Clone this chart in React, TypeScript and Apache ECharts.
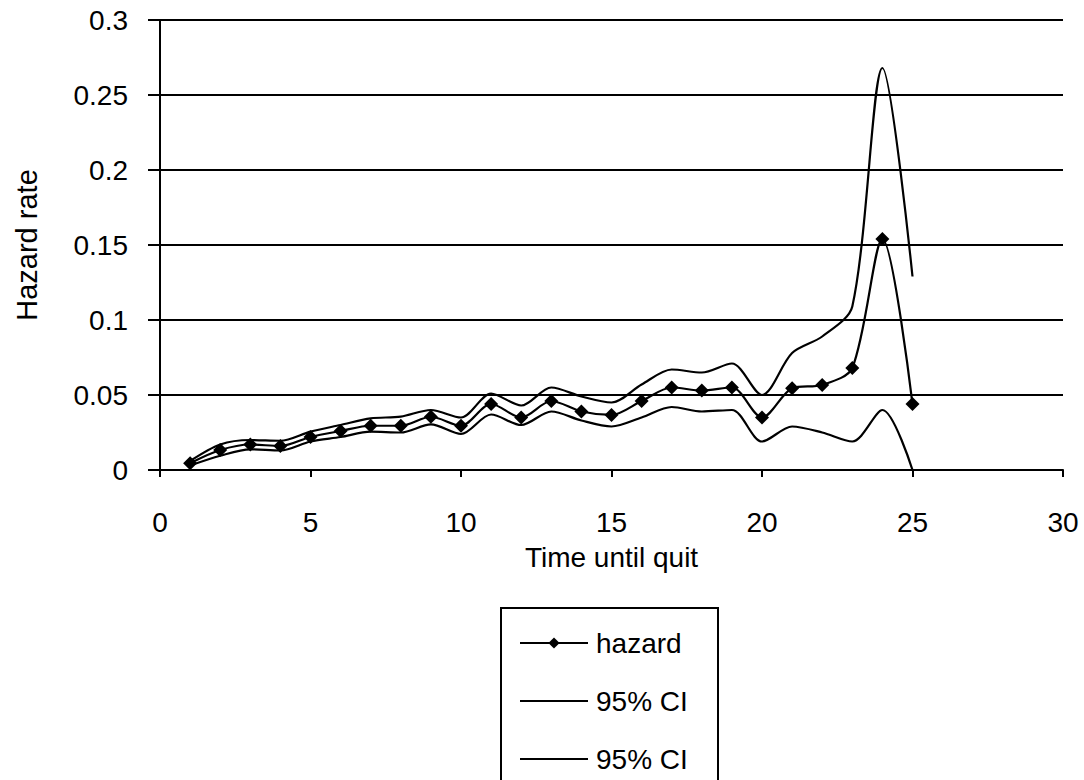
import React, { useEffect, useRef } from "react";
import * as echarts from "echarts";

const times = [1, 2, 3, 4, 5, 6, 7, 8, 9, 10, 11, 12, 13, 14, 15, 16, 17, 18, 19, 20, 21, 22, 23, 24, 25];
const hazard = [0.0045, 0.0133, 0.017, 0.016, 0.022, 0.026, 0.0295, 0.0295, 0.0355, 0.0295, 0.044, 0.035, 0.046, 0.039, 0.0367, 0.046, 0.055, 0.053, 0.055, 0.035, 0.0545, 0.0567, 0.068, 0.154, 0.044];
const upperCI = [0.006, 0.017, 0.02, 0.0195, 0.0256, 0.03, 0.0344, 0.0356, 0.04, 0.035, 0.051, 0.043, 0.055, 0.049, 0.045, 0.057, 0.067, 0.065, 0.071, 0.05, 0.078, 0.089, 0.109, 0.268, 0.129];
const lowerCI = [0.003, 0.0095, 0.0138, 0.013, 0.019, 0.022, 0.0256, 0.025, 0.0304, 0.024, 0.037, 0.03, 0.039, 0.033, 0.029, 0.035, 0.042, 0.039, 0.04, 0.019, 0.029, 0.025, 0.019, 0.04, 0.0];
const seriesNames = ["hazard", "95% CI", "95% CI"];
const xAxisTitle = "Time until quit";
const yAxisTitle = "Hazard rate";

const FONT = "Liberation Sans, Arial, sans-serif";

export default function App() {
  const ref = useRef<HTMLDivElement>(null);
  useEffect(() => {
    if (!ref.current) return;
    const chart = echarts.init(ref.current, undefined, { renderer: "svg" });
    const pair = (ys: number[]) => times.map((t, i) => [t, ys[i]]);
    chart.setOption({
      animation: false,
      backgroundColor: "#ffffff",
      textStyle: { fontFamily: FONT, color: "#000" },
      grid: { left: 160, top: 20, right: 21, bottom: 310, containLabel: false },
      xAxis: {
        type: "value",
        min: 0,
        max: 30,
        interval: 5,
        name: xAxisTitle,
        nameLocation: "middle",
        nameGap: 73,
        nameTextStyle: { fontSize: 28, color: "#000", fontFamily: FONT },
        axisLine: { show: true, onZero: false, lineStyle: { color: "#000", width: 2 } },
        axisTick: { show: true, length: 7, lineStyle: { color: "#000", width: 2 } },
        axisLabel: { fontSize: 28, color: "#000", margin: 38, fontFamily: FONT },
        splitLine: { show: false },
      },
      yAxis: {
        type: "value",
        min: 0,
        max: 0.3,
        interval: 0.05,
        name: yAxisTitle,
        nameLocation: "middle",
        nameGap: 119,
        nameTextStyle: { fontSize: 29, color: "#000", fontFamily: FONT },
        axisLine: { show: true, lineStyle: { color: "#000", width: 2 } },
        axisTick: { show: true, length: 12, lineStyle: { color: "#000", width: 2 } },
        axisLabel: { fontSize: 28, color: "#000", margin: 32, fontFamily: FONT },
        splitLine: { show: true, lineStyle: { color: "#000", width: 1.8 } },
      },
      legend: {
        orient: "vertical",
        left: 514,
        top: 624,
        itemWidth: 68,
        itemHeight: 14,
        itemGap: 30,
        textStyle: { fontSize: 28, color: "#000", fontFamily: FONT, padding: [0, 0, 0, 3] },
        data: [
          { name: "hazard" },
          { name: "95% CI ", itemStyle: { opacity: 0 } },
          { name: "95% CI", itemStyle: { opacity: 0 } },
        ],
        formatter: (n: string) => n.trim(),
      },
      graphic: [
        {
          type: "rect",
          shape: { x: 501, y: 608, width: 217, height: 220 },
          style: { fill: "none", stroke: "#000", lineWidth: 2 },
          silent: true,
        },
      ],
      series: [
        {
          name: seriesNames[0],
          type: "line",
          data: pair(hazard),
          smooth: 0.3,
          symbol: "diamond",
          symbolSize: 14,
          lineStyle: { color: "#000", width: 2.2 },
          itemStyle: { color: "#000" },
          z: 3,
        },
        {
          name: seriesNames[1] + " ",
          type: "line",
          data: pair(upperCI),
          smooth: 0.3,
          symbol: "none",
          lineStyle: { color: "#000", width: 2.2 },
          itemStyle: { color: "#000" },
        },
        {
          name: seriesNames[2],
          type: "line",
          data: pair(lowerCI),
          smooth: 0.3,
          symbol: "none",
          lineStyle: { color: "#000", width: 2.2 },
          itemStyle: { color: "#000" },
        },
      ],
    });
    return () => chart.dispose();
  }, []);
  return (
    <div
      ref={ref}
      style={{ position: "fixed", left: 0, top: 0, width: 1084, height: 780 }}
    />
  );
}
